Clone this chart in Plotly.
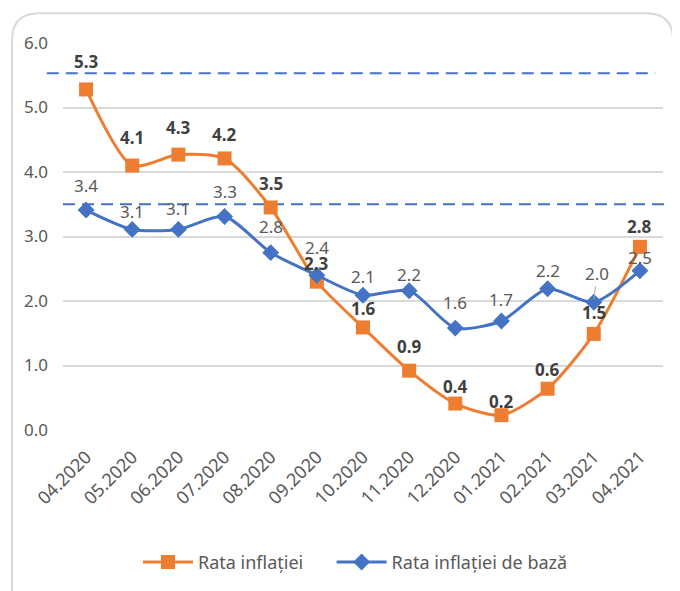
import plotly.graph_objects as go

months = ["04.2020", "05.2020", "06.2020", "07.2020", "08.2020", "09.2020", "10.2020",
          "11.2020", "12.2020", "01.2021", "02.2021", "03.2021", "04.2021"]
inflation = [5.28, 4.10, 4.27, 4.21, 3.45, 2.30, 1.59, 0.92, 0.41, 0.23, 0.64, 1.49, 2.84]
core_inflation = [3.41, 3.11, 3.11, 3.31, 2.75, 2.40, 2.09, 2.16, 1.58, 1.69, 2.19, 1.98, 2.47]
y_ticks = [0, 1, 2, 3, 4, 5, 6]
band_upper = 5.53
band_lower = 3.5

ORANGE = "#ED7D31"
BLUE = "#4472C4"
FONT = "Noto Sans"
PAD = "\u00a0" * 5

# label vertical offsets (pixels, upward)
orange_shift = [28, 28, 27, 24, 24, 18, 19, 24, 17, 14, 19, 21, 20]
blue_shift = [25, 18, 21, 25, 26, 28, 19, 16, 26, 22, 18, 29, 13]

fig = go.Figure()
fig.add_trace(go.Scatter(
    x=months, y=inflation, name="Rata inflației" + PAD, mode="lines+markers",
    line=dict(color=ORANGE, width=3, shape="spline", smoothing=0.7),
    marker=dict(symbol="square", size=14, color=ORANGE),
))
fig.add_trace(go.Scatter(
    x=months, y=core_inflation, name="Rata inflației de bază", mode="lines+markers",
    line=dict(color=BLUE, width=3, shape="spline", smoothing=0.7),
    marker=dict(symbol="diamond", size=13, color=BLUE),
))

annotations = []
for i, v in enumerate(inflation):
    annotations.append(dict(x=i, y=v, text=f"{v:.1f}", showarrow=False, yshift=orange_shift[i],
                            font=dict(family=FONT, size=17, color="#404040", weight="bold")))
for i, v in enumerate(core_inflation):
    if i == 11:
        annotations.append(dict(x=i, y=v, text=f"{v:.1f}", showarrow=True, arrowhead=0,
                                arrowwidth=1, arrowcolor="#a6a6a6", ax=3, ay=-blue_shift[i],
                                standoff=3,
                                font=dict(family=FONT, size=17, color="#595959")))
    else:
        annotations.append(dict(x=i, y=v, text=f"{v:.1f}", showarrow=False, yshift=blue_shift[i],
                                font=dict(family=FONT, size=17, color="#595959")))

shapes = [
    dict(type="line", xref="paper", yref="y", x0=-0.027, x1=0.987, y0=band_upper, y1=band_upper,
         line=dict(color=BLUE, width=2, dash="12px,7px"), layer="below"),
    dict(type="line", xref="paper", yref="y", x0=0.0, x1=1.003, y0=band_lower, y1=band_lower,
         line=dict(color=BLUE, width=2, dash="12px,7px"), layer="below"),
]
# rounded chart border
x0, x1, y0, y1 = -0.085, 1.0167, -0.45, 1.077
rx, ry = 0.045, 0.07
path = (f"M {x0+rx},{y1} L {x1-rx},{y1} Q {x1},{y1} {x1},{y1-ry} L {x1},{y0} "
        f"M {x0},{y0} L {x0},{y1-ry} Q {x0},{y1} {x0+rx},{y1}")
shapes.append(dict(type="path", xref="paper", yref="paper", path=path,
                   line=dict(color="#d9d9d9", width=2)))

fig.update_layout(
    width=680, height=591,
    margin=dict(l=55, r=25, t=35, b=169),
    paper_bgcolor="white", plot_bgcolor="white",
    font=dict(family=FONT, size=17, color="#595959"),
    showlegend=True,
    legend=dict(orientation="h", x=0.4875, xanchor="center", y=-0.342, yanchor="middle",
                font=dict(family=FONT, size=18, color="#595959"), itemwidth=50),
    annotations=annotations,
    shapes=shapes,
    xaxis=dict(type="category", range=[-0.5, 12.5], tickangle=-45, showgrid=False,
               showline=False, ticks="", automargin=False, ticklabelstandoff=12,
               tickfont=dict(family=FONT, size=18, color="#595959")),
    yaxis=dict(range=[0, 6], tickvals=y_ticks, tickformat=".1f", showgrid=True,
               gridcolor="#d9d9d9", gridwidth=1.5, zeroline=False, showline=False,
               ticks="", ticklabelstandoff=14, automargin=False,
               tickfont=dict(family=FONT, size=17, color="#595959")),
)

fig.write_html("out.html")
